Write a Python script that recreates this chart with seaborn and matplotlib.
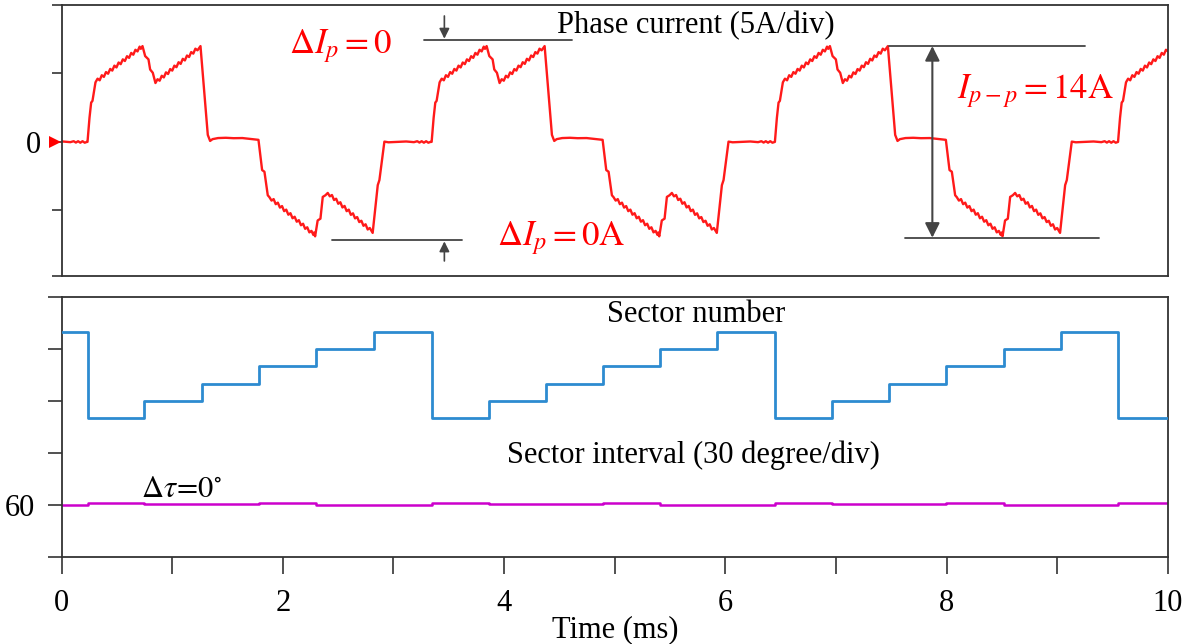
import numpy as np
import matplotlib
matplotlib.use("Agg")
import matplotlib.pyplot as plt
import matplotlib.transforms as mtransforms
import seaborn as sns

# ---------------------------------------------------------------------------
# Phase current over one electrical cycle (ms relative to the 6 -> 1 sector
# change, current in A).  The cycle repeats at each cycle start below.
cycle_ms = [
    0.000, 0.018, 0.033, 0.045, 0.072,
    0.091, 0.110, 0.129, 0.148, 0.167, 0.186, 0.205, 0.224, 0.243, 0.262,
    0.281, 0.300, 0.319, 0.338, 0.357, 0.376, 0.395, 0.414, 0.433, 0.452,
    0.471, 0.482, 0.497,
    0.521, 0.551, 0.566, 0.590, 0.614,
    0.633, 0.652, 0.671, 0.690, 0.709, 0.728, 0.747, 0.766, 0.785, 0.804,
    0.823, 0.842, 0.861, 0.880, 0.899, 0.918, 0.937, 0.956, 0.975, 0.994,
    1.021,
    1.042, 1.087, 1.108,
    1.130, 1.180, 1.250, 1.320, 1.400, 1.470, 1.545,
    1.578, 1.599, 1.629, 1.644,
    1.663, 1.682, 1.701, 1.720, 1.739, 1.758, 1.777, 1.796, 1.815, 1.834,
    1.853, 1.872, 1.891, 1.910, 1.929, 1.948, 1.967, 1.986, 2.005, 2.024,
    2.041, 2.048, 2.057,
    2.080, 2.105, 2.126, 2.150, 2.171,
    2.190, 2.209, 2.228, 2.247, 2.266, 2.285, 2.304, 2.323, 2.342, 2.361,
    2.380, 2.399, 2.418, 2.437, 2.456, 2.475, 2.494, 2.513, 2.532, 2.551,
    2.577,
    2.623, 2.638, 2.683,
    2.720, 2.800, 2.880, 2.950, 2.980, 3.000, 3.020, 3.040, 3.060, 3.080,
    3.100,
]
cycle_amp = [
    0.00, 1.76, 2.87, 3.00, 4.35,
    4.62, 4.50, 4.87, 4.75, 5.10, 4.98, 5.33, 5.21, 5.57, 5.44,
    5.80, 5.68, 6.03, 5.91, 6.26, 6.14, 6.50, 6.37, 6.73, 6.61,
    6.96, 6.80, 7.00,
    6.27, 6.03, 5.29, 5.05, 4.30,
    4.58, 4.47, 4.83, 4.71, 5.08, 4.96, 5.32, 5.21, 5.57, 5.46,
    5.82, 5.70, 6.07, 5.95, 6.31, 6.20, 6.56, 6.45, 6.81, 6.69,
    7.00,
    4.93, 0.51, 0.07,
    0.20, 0.28, 0.30, 0.27, 0.28, 0.22, 0.15,
    -2.06, -2.18, -3.90, -4.04,
    -4.29, -4.18, -4.55, -4.44, -4.80, -4.69, -5.06, -4.95, -5.32, -5.21,
    -5.58, -5.47, -5.83, -5.72, -6.09, -5.98, -6.35, -6.24, -6.61, -6.50,
    -6.80, -6.62, -6.90,
    -5.74, -5.61, -4.02, -3.90, -3.73,
    -3.98, -3.88, -4.25, -4.15, -4.52, -4.41, -4.79, -4.68, -5.06, -4.95,
    -5.33, -5.22, -5.59, -5.49, -5.86, -5.76, -6.13, -6.02, -6.40, -6.29,
    -6.65,
    -3.16, -2.79, 0.02,
    -0.03, 0.00, 0.03, -0.02, 0.05, -0.05, 0.05, -0.06, 0.05, -0.06,
    0.00,
]
cycle_starts_ms = [-2.870, 0.235, 3.345, 6.447, 9.548]

# Sector number and sector interval (degrees) per sector
sector_edges_ms = [0.0, 0.235, 0.750, 1.266, 1.781, 2.297, 2.821, 3.345,
                   3.861, 4.376, 4.892, 5.407, 5.922, 6.447, 6.962, 7.477,
                   7.993, 8.517, 9.033, 9.548, 10.0]
sector_number = [6, 1, 2, 3, 4, 5, 6, 1, 2, 3, 4, 5, 6, 1, 2, 3, 4, 5, 6, 1]
sector_interval_deg = [60.0, 61.15, 60.4, 60.8, 61.0, 60.2, 60.0, 61.15,
                       60.4, 60.8, 61.0, 60.2, 60.0, 61.15, 60.4, 60.8,
                       61.0, 60.2, 60.0, 61.15]

# Annotation levels (A)
delta_ip_upper = 7.44
delta_ip_lower = -7.17
ip_low = -7.0
ip_pp = 14

# ---------------------------------------------------------------------------
sns.set_theme(style="ticks")
plt.rcParams["font.family"] = ["Liberation Serif", "DejaVu Serif"]
plt.rcParams["mathtext.fontset"] = "stix"
plt.rcParams["text.color"] = "black"
plt.rcParams["axes.labelcolor"] = "black"

SPINE = "#333333"
GUIDE = "#444444"
RED = "#ff1a1a"
BLUE = "#2d8bd0"
MAGENTA = "#cc00cc"
FS = 22

fig = plt.figure(figsize=(11.85, 6.44), dpi=100)
ax1 = fig.add_axes([0.0519, 0.5714, 0.9338, 0.4208])
ax2 = fig.add_axes([0.0519, 0.1351, 0.9338, 0.4037])

# ---- phase current --------------------------------------------------------
t_cur = np.concatenate([np.asarray(cycle_ms) + s for s in cycle_starts_ms])
i_cur = np.tile(np.asarray(cycle_amp), len(cycle_starts_ms))
sns.lineplot(x=t_cur, y=i_cur, ax=ax1, color=RED, lw=1.7,
             estimator=None, sort=False)
ax1.set_xlim(0, 10)
ax1.set_ylim(-9.8, 10)
ax1.set_yticks([-9.8, -5, 0, 5, 10])
ax1.set_yticklabels(["", "", "0", "", ""])
ax1.tick_params(axis="y", direction="out", length=7, width=1.2,
                color=SPINE, labelcolor="black", labelsize=FS, pad=8)
ax1.tick_params(axis="x", length=0, labelbottom=False)
ax1.set_xlabel("")
ax1.set_ylabel("")

# zero marker on the left edge
blend = mtransforms.blended_transform_factory(ax1.transAxes, ax1.transData)
ax1.plot([-0.0062], [0], marker=">", color="red", ms=8, mew=0,
         transform=blend, clip_on=False, zorder=5)

# Delta I_p guides
ax1.plot([3.28, 4.61], [delta_ip_upper, delta_ip_upper], color=GUIDE, lw=1.3)
ax1.annotate("", xy=(3.46, delta_ip_upper + 0.1), xytext=(3.46, 9.2),
             arrowprops=dict(arrowstyle="-|>", color=GUIDE, lw=1.2,
                             mutation_scale=15, shrinkA=0, shrinkB=0))
ax1.plot([2.44, 3.62], [delta_ip_lower, delta_ip_lower], color=GUIDE, lw=1.3)
ax1.annotate("", xy=(3.46, delta_ip_lower - 0.1), xytext=(3.46, -8.7),
             arrowprops=dict(arrowstyle="-|>", color=GUIDE, lw=1.2,
                             mutation_scale=15, shrinkA=0, shrinkB=0))

# peak-to-peak guides
ip_high = ip_low + ip_pp
ax1.plot([7.48, 9.25], [ip_high, ip_high], color=GUIDE, lw=1.3)
ax1.plot([7.62, 9.38], [ip_low, ip_low], color=GUIDE, lw=1.3)
ax1.annotate("", xy=(7.87, ip_high), xytext=(7.87, ip_low),
             arrowprops=dict(arrowstyle="<|-|>", color=GUIDE, lw=1.5,
                             mutation_scale=22, shrinkA=0, shrinkB=0))

ax1.text(2.06, 6.49, r"$\Delta I_p = 0$", color="red", fontsize=25,
         ha="left", va="baseline")
ax1.text(3.94, -7.55, r"$\Delta I_p = 0\mathrm{A}$", color="red", fontsize=25,
         ha="left", va="baseline")
ax1.text(8.09, 3.2, r"$I_{p-p} = %d\mathrm{A}$" % ip_pp, color="red",
         fontsize=25, ha="left", va="baseline")
ax1.text(4.48, 7.95, "Phase current (5A/div)", color="black", fontsize=FS,
         ha="left", va="baseline")

# ---- sector interval / sector number -------------------------------------
sns.lineplot(x=sector_edges_ms, y=sector_interval_deg + [sector_interval_deg[-1]],
             ax=ax2, color=MAGENTA, lw=1.8, drawstyle="steps-post",
             estimator=None, sort=False)
ax2.set_xlim(0, 10)
ax2.set_ylim(30, 180)
ax2.set_yticks([30, 60, 90, 120, 150, 180])
ax2.set_yticklabels(["", "60", "", "", "", ""])
ax2.set_xticks(range(0, 11, 2))
ax2.set_xticks(range(1, 10, 2), minor=True)
ax2.tick_params(axis="y", direction="out", length=10, width=1.2,
                color=SPINE, labelcolor="black", labelsize=FS, pad=9)
ax2.tick_params(axis="x", which="both", direction="out", length=12, width=1.2,
                color=SPINE, labelcolor="black", labelsize=FS, pad=11)
ax2.set_ylabel("")
ax2.set_xlabel("Time (ms)", fontsize=FS, labelpad=-2, color="black")

twin = ax2.twinx()
sns.lineplot(x=sector_edges_ms, y=sector_number + [sector_number[-1]],
             ax=twin, color=BLUE, lw=2.0, drawstyle="steps-post",
             estimator=None, sort=False)
twin.set_ylim(-7.08, 8.035)
twin.set_yticks([])
twin.set_ylabel("")
for sp in twin.spines.values():
    sp.set_visible(False)

ax2.text(4.93, 165.6, "Sector number", fontsize=FS, ha="left", va="baseline")
ax2.text(4.03, 84.2, "Sector interval (30 degree/div)", fontsize=FS,
         ha="left", va="baseline")
ax2.text(0.72, 64.6, r"$\Delta\tau\!=\!0^{\circ}$", fontsize=22,
         ha="left", va="baseline")

for ax in (ax1, ax2):
    for sp in ax.spines.values():
        sp.set_visible(True)
        sp.set_color(SPINE)
        sp.set_linewidth(1.3)

fig.savefig("out.png", dpi=100)
